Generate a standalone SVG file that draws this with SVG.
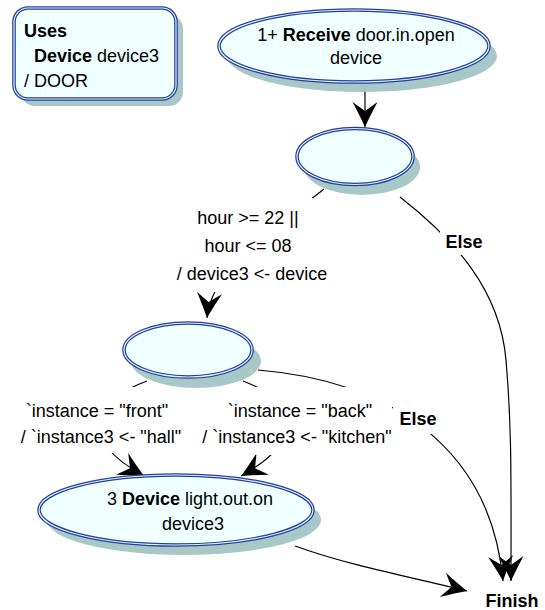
<svg xmlns="http://www.w3.org/2000/svg" width="545" height="610" viewBox="0 0 545 610">
<style>
text{font-family:"Liberation Sans",Arial,sans-serif;font-size:18px;fill:#000}
.b{font-weight:bold}
.shadow{fill:#a8c8c8}
.body{fill:#f0ffff;stroke:#23409a;stroke-width:3.6}
.inner{fill:none;stroke:#dfeeff;stroke-width:1.2}
.edge{fill:none;stroke:#000;stroke-width:1.2;marker-end:url(#ah)}
.bg{fill:#fff}
</style>
<defs>
<marker id="ah" markerUnits="userSpaceOnUse" markerWidth="32" markerHeight="32" viewBox="-28 -16 32 32" refX="0" refY="0" orient="auto">
<path d="M0,0 Q-11,-5 -25,-12.5 L-16,0 L-25,12.5 Q-11,5 0,0Z" fill="#000"/>
</marker>
</defs>
<g id="connectors">
<path class="edge" d="M365,90 L365,127"/>
<path class="edge" d="M324,189 C270,232 212,268 207,318"/>
<path class="edge" d="M400,197 C455,240 500,290 506,360 S511,480 511,581"/>
<path class="edge" d="M147,381 C100,398 70,435 144,476"/>
<path class="edge" d="M243,381 C300,403 305,440 241,476"/>
<path class="edge" d="M258,370 C380,380 490,440 503,581"/>
<path class="edge" d="M295,546 C350,566 420,579 467,591"/>
<rect class="bg" x="180" y="198" width="146" height="94"/>
<text x="248" y="224" text-anchor="middle">hour &gt;= 22 ||</text>
<text x="248" y="252" text-anchor="middle">hour &lt;= 08</text>
<text x="252" y="280" text-anchor="middle">/ device3 &lt;- device</text>
<rect class="bg" x="440" y="230" width="48" height="25"/>
<text class="b" x="464" y="248" text-anchor="middle">Else</text>
<rect class="bg" x="14" y="387" width="176" height="66"/>
<text x="97" y="417" text-anchor="middle">`instance = "front"</text>
<text x="101" y="443" text-anchor="middle">/ `instance3 &lt;- "hall"</text>
<rect class="bg" x="200" y="387" width="192" height="68"/>
<text x="300" y="417" text-anchor="middle">`instance = "back"</text>
<text x="297" y="443" text-anchor="middle">/ `instance3 &lt;- "kitchen"</text>
<rect class="bg" x="393" y="404" width="50" height="30"/>
<text class="b" x="418" y="425" text-anchor="middle">Else</text>
</g>
<g id="uses">
<rect class="shadow" x="21" y="15" width="162" height="91" rx="14"/>
<rect class="body" x="14" y="8" width="162" height="91" rx="14"/>
<rect class="inner" x="14" y="8" width="162" height="91" rx="14"/>
<text class="b" x="24" y="37">Uses</text>
<text x="34" y="62"><tspan class="b">Device</tspan> device3</text>
<text x="24" y="87">/ DOOR</text>
</g>
<g id="receive">
<ellipse class="shadow" cx="362" cy="56" rx="135" ry="36"/>
<ellipse class="body" cx="354" cy="46" rx="135" ry="36"/>
<ellipse class="inner" cx="354" cy="46" rx="135" ry="36"/>
<text x="356" y="41" text-anchor="middle">1+ <tspan class="b">Receive</tspan> door.in.open</text>
<text x="356" y="64" text-anchor="middle">device</text>
</g>
<g id="choice1">
<ellipse class="shadow" cx="362" cy="167" rx="58" ry="28"/>
<ellipse class="body" cx="355" cy="156.5" rx="58" ry="28"/>
<ellipse class="inner" cx="355" cy="156.5" rx="58" ry="28"/>
</g>
<g id="choice2">
<ellipse class="shadow" cx="196" cy="361" rx="65" ry="27"/>
<ellipse class="body" cx="188" cy="350" rx="64" ry="27"/>
<ellipse class="inner" cx="188" cy="350" rx="64" ry="27"/>
</g>
<g id="device">
<ellipse class="shadow" cx="184" cy="520" rx="137" ry="35"/>
<ellipse class="body" cx="176" cy="510" rx="137" ry="35"/>
<ellipse class="inner" cx="176" cy="510" rx="137" ry="35"/>
<text x="190" y="505" text-anchor="middle">3 <tspan class="b">Device</tspan> light.out.on</text>
<text x="193" y="530" text-anchor="middle">device3</text>
</g>
<g id="finish">
<text class="b" x="512" y="607" text-anchor="middle">Finish</text>
</g>
</svg>
